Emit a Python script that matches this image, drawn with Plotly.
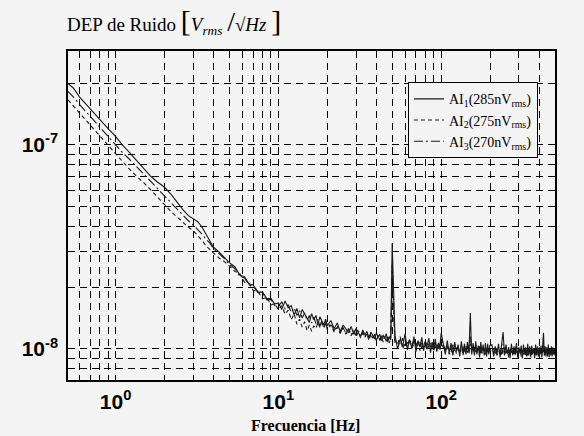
import plotly.graph_objects as go

# ---------------- data (frequencies in Hz, noise density in nV/sqrt(Hz)) ----------------
freq_low = [0.51, 0.55, 0.6, 0.65, 0.7, 0.75, 0.8, 0.9,
            1.0, 1.1, 1.2, 1.35, 1.5, 1.65, 1.8,
            2.0, 2.2, 2.4, 2.6, 2.8,
            3.0, 3.2, 3.4, 3.6, 3.8,
            4.0, 4.3, 4.6,
            5.0, 5.4, 5.8,
            6.2, 6.6,
            7.0, 7.5,
            8.0, 8.5,
            9.0, 9.5]
freq_mid = [10, 10.5, 11, 11.5, 12, 12.5, 13, 13.5, 14, 14.5,
            15, 15.5, 16, 16.5, 17, 17.5, 18, 18.5, 19, 19.5,
            20, 21, 22, 23, 24, 25, 26, 27, 28, 29,
            30, 31, 32, 33, 34, 35, 36, 37, 38, 39,
            40, 41, 42, 43, 44, 45, 46, 47, 48, 49]
freq_spike = [50]
freq_hi_a = [52, 54, 56, 58, 60, 62, 64, 66, 68, 70,
             72, 74, 76, 78, 80, 82, 84, 86, 88, 90,
             92, 94, 96, 98, 100]
freq_hi_b = [103, 106, 109, 112, 115, 118, 121, 124, 127, 130,
             133, 136, 139, 142, 145, 148, 151, 154, 157, 160,
             163, 166, 169, 172, 175, 178, 181, 184, 187, 190,
             193, 196, 199]
freq_hi_c = [205, 210, 215, 220, 225, 230, 235, 240, 245, 250,
             255, 260, 265, 270, 275, 280, 285, 290, 295, 300,
             305, 310, 315, 320, 325, 330, 335, 340, 345, 350,
             355, 360, 365, 370, 375, 380, 385, 390, 395, 400,
             405, 410, 415, 420, 425, 430, 435, 440, 445, 450,
             455, 460, 465, 470, 475, 480, 485, 490, 495, 500]

ai1_low = [200, 190, 172, 160, 150, 140, 132, 120,
           110, 100, 93, 84, 76, 70, 66,
           62, 57, 52, 48, 45,
           43.5, 42, 39.5, 36.5, 34,
           31.5, 30, 28.5,
           26.5, 25.3, 23.0,
           22.6, 20.8,
           20.6, 19.0,
           19.0, 17.6,
           17.7, 16.6]
ai1_mid = [16.8, 15.6, 17.2, 15.9, 16.3, 14.7, 15.8, 14.2, 15.6, 14.9,
           14.3, 13.5, 14.9, 13.9, 14.6, 13.2, 14.4, 13.6, 13.1, 14.0,
           13.0, 13.8, 12.6, 13.4, 12.2, 13.1, 12.5, 12.0, 12.9, 11.8,
           12.6, 12.0, 11.5, 12.4, 11.7, 12.2, 11.3, 12.1, 11.6, 11.2,
           12.0, 11.4, 11.8, 11.0, 11.7, 11.3, 11.9, 10.8, 11.5, 11.1]
ai1_spike = [33]
ai1_hi_a = [11.7, 10.0, 11.2, 10.3, 11.9, 9.9, 11.1, 10.1, 11.5, 9.7,
            11.0, 10.2, 11.4, 9.8, 10.9, 10.4, 11.3, 9.6, 10.8, 10.0,
            11.2, 9.7, 10.7, 10.1, 12.0]
ai1_hi_b = [10.6, 9.4, 11.0, 9.6, 10.7, 9.3, 10.8, 9.7, 10.5, 9.2,
            10.9, 9.5, 10.6, 9.4, 10.8, 9.6, 15.0, 9.4, 10.7, 9.3,
            10.9, 9.5, 10.4, 9.1, 10.8, 9.6, 10.5, 9.3, 10.7, 9.2,
            10.6, 9.4, 10.4]
ai1_hi_c = [10.5, 9.2, 10.3, 9.4, 10.6, 9.1, 10.4, 12.1, 9.3, 10.5,
            9.5, 10.2, 9.0, 10.6, 9.3, 10.3, 9.4, 10.7, 9.1, 10.2,
            9.5, 10.4, 9.0, 10.5, 9.4, 10.2, 9.2, 10.6, 9.3, 10.3,
            9.1, 10.4, 9.5, 10.1, 9.0, 10.5, 9.3, 10.3, 9.2, 10.2,
            9.4, 10.4, 9.1, 10.1, 12.0, 9.3, 10.3, 9.2, 10.2, 9.4,
            10.5, 9.1, 10.1, 9.3, 10.3, 9.2, 10.2, 9.4, 10.1, 9.3]

ai2_low = [166, 155, 143, 133, 125, 117, 110, 99,
           90, 83, 77, 70, 65, 60, 56,
           51, 47, 44, 41.5, 39.5,
           38, 36, 34, 32, 30.5,
           29.5, 28, 27,
           25.5, 24.0, 23.4,
           21.2, 20.9,
           19.4, 19.1,
           17.6, 17.9,
           16.4, 16.7]
ai2_mid = [15.6, 16.3, 14.8, 15.5, 13.9, 14.9, 13.2, 14.0, 12.8, 13.6,
           12.3, 13.1, 12.2, 13.0, 12.6, 13.5, 12.7, 13.8, 12.6, 13.3,
           12.4, 13.1, 12.1, 12.8, 11.9, 12.7, 11.8, 12.5, 11.6, 12.3,
           11.5, 12.1, 11.3, 12.0, 11.4, 11.9, 11.0, 11.8, 11.3, 11.7,
           10.9, 11.6, 11.1, 11.5, 10.8, 11.4, 11.0, 11.5, 10.7, 11.3]
ai2_spike = [26]
ai2_hi_a = [11.0, 10.6, 11.5, 10.0, 10.8, 10.3, 11.2, 10.1, 10.6, 10.4,
            11.0, 9.8, 10.9, 10.2, 10.4, 9.9, 10.8, 10.3, 10.5, 9.7,
            10.7, 10.1, 10.3, 9.8, 10.6]
ai2_hi_b = [10.1, 9.8, 10.5, 9.4, 10.2, 9.9, 10.3, 9.5, 10.0, 9.7,
            10.4, 9.3, 10.1, 9.8, 10.2, 9.5, 10.6, 9.6, 10.1, 9.8,
            10.3, 9.4, 10.0, 9.7, 10.2, 9.5, 9.9, 9.8, 10.1, 9.3,
            10.0, 9.6, 9.9]
ai2_hi_c = [9.9, 9.6, 10.2, 9.3, 9.8, 9.7, 10.1, 9.4, 10.0, 9.5,
            9.8, 9.1, 10.1, 9.6, 9.9, 9.3, 10.2, 9.5, 9.7, 9.4,
            10.0, 9.2, 9.9, 9.6, 10.1, 9.3, 9.8, 9.5, 9.9, 9.4,
            10.0, 9.2, 9.8, 9.6, 10.1, 9.3, 9.7, 9.5, 9.9, 9.2,
            10.0, 9.4, 9.8, 9.5, 9.9, 9.3, 9.7, 9.6, 10.0, 9.2,
            9.8, 9.4, 9.9, 9.5, 9.7, 9.3, 9.9, 9.5, 9.8, 9.4]

ai3_low = [183, 172, 158, 147, 138, 130, 122, 110,
           100, 92, 86, 78, 71, 66, 61,
           56, 52, 48, 45, 42.5,
           40.5, 38.5, 36.5, 34.5, 33,
           31, 29.5, 28,
           26, 24.8, 22.7,
           22.3, 20.6,
           20.3, 18.9,
           18.8, 17.4,
           17.5, 16.3]
ai3_mid = [16.2, 17.0, 15.7, 16.5, 15.1, 15.9, 14.6, 15.4, 14.2, 15.0,
           13.8, 14.6, 13.4, 14.3, 13.3, 14.0, 12.9, 13.7, 12.8, 13.5,
           12.7, 13.3, 12.3, 13.0, 12.0, 12.8, 11.9, 12.6, 11.7, 12.4,
           11.6, 12.3, 11.6, 12.1, 11.4, 12.0, 11.3, 11.9, 11.2, 11.8,
           11.1, 11.7, 11.0, 11.6, 11.2, 11.5, 10.9, 11.4, 11.0, 11.5]
ai3_spike = [21]
ai3_hi_a = [10.8, 10.9, 10.4, 11.3, 10.2, 10.7, 10.9, 10.0, 11.0, 10.3,
            10.5, 10.8, 10.1, 10.6, 10.9, 10.0, 10.4, 10.7, 10.2, 10.5,
            10.1, 10.6, 10.0, 10.4, 11.2]
ai3_hi_b = [10.4, 9.9, 10.1, 10.3, 9.6, 10.5, 9.8, 10.0, 10.3, 9.5,
            10.1, 10.2, 9.7, 10.4, 9.6, 10.0, 11.5, 10.1, 9.7, 10.2,
            9.6, 10.0, 9.9, 10.3, 9.5, 10.1, 9.8, 10.0, 9.4, 10.2,
            9.7, 9.9, 10.0]
ai3_hi_c = [9.7, 10.0, 9.5, 10.1, 9.6, 9.9, 9.4, 10.6, 9.8, 9.6,
            10.0, 9.4, 9.9, 9.7, 9.5, 10.1, 9.4, 9.8, 9.6, 10.0,
            9.5, 9.8, 9.7, 9.4, 10.0, 9.6, 9.8, 9.3, 10.0, 9.7,
            9.5, 9.9, 9.4, 10.1, 9.6, 9.8, 9.5, 9.7, 9.9, 9.3,
            9.8, 9.6, 10.0, 9.5, 10.5, 9.7, 9.4, 9.9, 9.6, 9.8,
            9.3, 9.9, 9.6, 9.7, 9.5, 10.0, 9.4, 9.8, 9.6, 9.7]

series_names = ["AI<sub>1</sub>(285nV<sub>rms</sub>)",
                "AI<sub>2</sub>(275nV<sub>rms</sub>)",
                "AI<sub>3</sub>(270nV<sub>rms</sub>)"]

x_major = [1, 10, 100]
x_major_text = ["10<sup>0</sup>", "10<sup>1</sup>", "10<sup>2</sup>"]
x_minor = [0.6, 0.7, 0.8, 0.9, 2, 3, 4, 5, 6, 7, 8, 9,
           20, 30, 40, 50, 60, 70, 80, 90, 200, 300, 400]
y_major = [1e-8, 1e-7]
y_major_text = ["10<sup>-8</sup>", "10<sup>-7</sup>"]
y_minor = [8e-9, 9e-9, 2e-8, 3e-8, 4e-8, 5e-8, 6e-8, 7e-8, 8e-8, 9e-8, 2e-7]

# ---------------- assemble ----------------
freq = freq_low + freq_mid + freq_spike + freq_hi_a + freq_hi_b + freq_hi_c
ai1 = ai1_low + ai1_mid + ai1_spike + ai1_hi_a + ai1_hi_b + ai1_hi_c
ai2 = ai2_low + ai2_mid + ai2_spike + ai2_hi_a + ai2_hi_b + ai2_hi_c
ai3 = ai3_low + ai3_mid + ai3_spike + ai3_hi_a + ai3_hi_b + ai3_hi_c
for s in (ai1, ai2, ai3):
    if len(s) != len(freq):
        raise ValueError(f"length mismatch {len(s)} vs {len(freq)}")

nv = 1e-9
styles = ["solid", "4px,3px", "9px,3px,2px,3px"]
fig = go.Figure()
for name, vals, dash in zip(series_names, (ai1, ai2, ai3), styles):
    fig.add_trace(go.Scatter(
        x=freq, y=[v * nv for v in vals], mode="lines", name=name,
        line=dict(color="#1a1a1a", width=1.1, dash=dash)))

BG = "#f4f4f4"
grid = dict(showgrid=True, gridcolor="#000000", gridwidth=1, griddash="7px,5px")
tickfont = dict(family="Liberation Sans", size=21, color="black", weight="bold")
fig.update_xaxes(
    type="log", range=[-0.292, 2.699],
    tickmode="array", tickvals=x_major, ticktext=x_major_text,
    ticks="inside", ticklen=5, tickcolor="black",
    showline=True, linecolor="black", linewidth=1.5, mirror="allticks",
    tickfont=tickfont, zeroline=False, ticklabelstandoff=2,
    minor=dict(tickmode="array", tickvals=x_minor, ticks="inside", ticklen=3,
               tickcolor="black", **grid),
    **grid)
fig.update_yaxes(
    type="log", range=[-8.152, -6.54],
    tickmode="array", tickvals=y_major, ticktext=y_major_text,
    ticks="inside", ticklen=5, tickcolor="black",
    showline=True, linecolor="black", linewidth=1.5, mirror="allticks",
    tickfont=tickfont, zeroline=False, ticklabelstandoff=4,
    minor=dict(tickmode="array", tickvals=y_minor, ticks="inside", ticklen=3,
               tickcolor="black", **grid),
    **grid)

fig.update_layout(
    width=584, height=436,
    margin=dict(l=68, r=29, t=51, b=56),
    paper_bgcolor=BG, plot_bgcolor=BG,
    showlegend=True,
    legend=dict(x=0.965, y=0.905, xanchor="right", yanchor="top",
                bgcolor=BG, bordercolor="black", borderwidth=1,
                font=dict(family="Liberation Serif", size=14, color="black"),
                tracegroupgap=0, itemwidth=30),
    annotations=[
        dict(xref="paper", yref="paper", x=-0.006, y=1.09, xanchor="left", yanchor="middle",
             showarrow=False,
             text=("DEP de Ruido <span style='font-size:30px'>[</span>"
                   "<i>V<sub>rms</sub></i> <span style='font-size:28px'>/</span>"
                   "√<i>Hz</i> <span style='font-size:30px'>]</span>"),
             font=dict(family="Liberation Serif", size=19, color="black")),
        dict(xref="paper", yref="paper", x=0.487, y=-0.137, xanchor="center", yanchor="middle",
             showarrow=False, text="Frecuencia [Hz]",
             font=dict(family="Liberation Serif", size=16, color="black", weight="bold")),
    ],
)

fig.write_html("out.html")
